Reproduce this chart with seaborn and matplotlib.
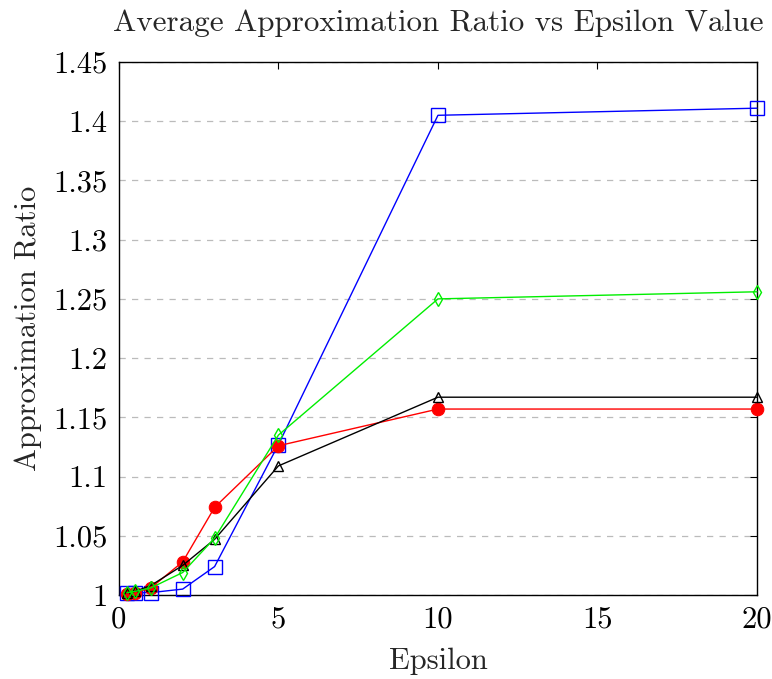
import matplotlib
matplotlib.use("Agg")
import matplotlib.pyplot as plt
import seaborn as sns
import pandas as pd

epsilon = [0.25, 0.5, 1, 2, 3, 5, 10, 20]
series_blue = [1.002, 1.002, 1.002, 1.005, 1.024, 1.127, 1.405, 1.411]
series_green = [1.002, 1.003, 1.006, 1.019, 1.048, 1.135, 1.250, 1.256]
series_black = [1.002, 1.003, 1.008, 1.025, 1.047, 1.109, 1.167, 1.167]
series_red = [1.001, 1.002, 1.006, 1.028, 1.074, 1.126, 1.157, 1.157]

x_ticks = [0, 5, 10, 15, 20]
y_ticks = [1, 1.05, 1.1, 1.15, 1.2, 1.25, 1.3, 1.35, 1.4, 1.45]
y_tick_labels = ["1", "1.05", "1.1", "1.15", "1.2", "1.25", "1.3", "1.35", "1.4", "1.45"]

sns.set_theme(style="white")
plt.rcParams["font.family"] = ["cmr10", "DejaVu Serif"]
plt.rcParams["axes.formatter.use_mathtext"] = True
plt.rcParams["mathtext.fontset"] = "cm"

fig = plt.figure(figsize=(7.72, 6.79), dpi=100)
ax = fig.add_axes([0.154, 0.1237, 0.8266, 0.785])

styles = [
    ("blue", series_blue, dict(color="blue", marker="s", markersize=10, markerfacecolor="none", markeredgecolor="blue", markeredgewidth=1.0)),
    ("red", series_red, dict(color="red", marker="o", markersize=9, markerfacecolor="red", markeredgecolor="red")),
    ("black", series_black, dict(color="black", marker="^", markersize=7, markerfacecolor="none", markeredgecolor="black", markeredgewidth=1.0)),
    ("green", series_green, dict(color="#00ee00", marker="d", markersize=7, markerfacecolor="none", markeredgecolor="#00ee00", markeredgewidth=1.0)),
]

for name, vals, kw in styles:
    df = pd.DataFrame({"Epsilon": epsilon, "Ratio": vals})
    sns.lineplot(data=df, x="Epsilon", y="Ratio", ax=ax, linewidth=1.0, clip_on=False, zorder=3, **kw)

ax.set_xlim(0, 20)
ax.set_ylim(1, 1.45)
ax.set_xticks(x_ticks)
ax.set_xticklabels([str(t) for t in x_ticks])
ax.set_yticks(y_ticks)
ax.set_yticklabels(y_tick_labels)
ax.yaxis.grid(True, linestyle=(0, (5, 5)), color="#bbbbbb", linewidth=0.9)
ax.xaxis.grid(False)
ax.set_axisbelow(True)
ax.tick_params(axis="both", direction="in", top=True, right=True, length=5, width=0.8, labelsize=22, colors="black", pad=8)
for s in ax.spines.values():
    s.set_color("black")
    s.set_linewidth(1.0)

ax.set_xlabel("Epsilon", fontsize=22, labelpad=10)
ax.set_ylabel("Approximation Ratio", fontsize=22, labelpad=8)
ax.set_title("Average Approximation Ratio vs Epsilon Value", fontsize=22.4, pad=22)

fig.savefig("out.png", dpi=100)
